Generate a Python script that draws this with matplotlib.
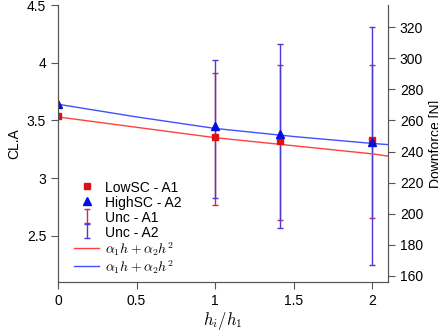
import numpy as np
import matplotlib as mpl
mpl.use('Agg')
import matplotlib.pyplot as plt

mpl.rcParams['font.family'] = ['Liberation Sans', 'DejaVu Sans']
mpl.rcParams['mathtext.fontset'] = 'cm'

# data (CL.A)
h_ratio = [0, 1, 1.41, 2]
cla_low = [3.54, 3.36, 3.32, 3.33]
cla_high = [3.64, 3.45, 3.38, 3.31]

# uncertainty bars, only at h > 0
h_unc = [1, 1.41, 2]
low_unc_lo = [2.77, 2.64, 2.65]
low_unc_hi = [3.91, 3.98, 3.98]
high_unc_lo = [2.83, 2.57, 2.25]
high_unc_hi = [4.02, 4.16, 4.31]

# fitted curves read at a few h values
h_fit = [0, 0.5, 1, 1.5, 2, 2.1]
fit_low = [3.53, 3.44, 3.35, 3.28, 3.21, 3.19]
fit_high = [3.64, 3.53, 3.43, 3.36, 3.30, 3.29]

q_scale = 74.3  # downforce / CL.A

fig = plt.figure(figsize=(4.39, 3.34), dpi=100)
ax = fig.add_axes([0.132, 0.156, 0.752, 0.829])

m1, = ax.plot(h_ratio, cla_low, 's', color='#e01010', ms=5, zorder=5, label='LowSC - A1')
m2, = ax.plot(h_ratio, cla_high, '^', color='#0010e0', ms=6, zorder=5, label='HighSC - A2')

c_low = np.array(cla_low[1:])
c_high = np.array(cla_high[1:])
e1 = ax.errorbar(h_unc, c_low, yerr=[c_low - np.array(low_unc_lo), np.array(low_unc_hi) - c_low],
                 fmt='none', ecolor='#c03050', elinewidth=1, capsize=2.5, capthick=1, label='Unc - A1')
e2 = ax.errorbar(h_unc, c_high, yerr=[c_high - np.array(high_unc_lo), np.array(high_unc_hi) - c_high],
                 fmt='none', ecolor='#4a3ad8', elinewidth=1, capsize=2.5, capthick=1, label='Unc - A2')

l1, = ax.plot(h_fit, fit_low, '-', color='#ff4040', lw=1, label=r'$\alpha_1 h + \alpha_2 h^2$')
l2, = ax.plot(h_fit, fit_high, '-', color='#4050ff', lw=1, label=r'$\alpha_1 h + \alpha_2 h^2$')

ax.set_xlim(0, 2.1)
ax.set_ylim(2.1, 4.5)
ax.set_xticks([0, 0.5, 1, 1.5, 2])
ax.set_xticklabels(['0', '0.5', '1', '1.5', '2'])
ax.set_yticks([2.5, 3, 3.5, 4, 4.5])
ax.set_yticklabels(['2.5', '3', '3.5', '4', '4.5'])
ax.set_ylabel('CL.A', fontsize=10)
ax.set_xlabel(r'$h_i/h_1$', fontsize=12, labelpad=2)

ax2 = ax.twinx()
ax2.set_ylim(2.1 * q_scale, 4.5 * q_scale)
ax2.set_yticks(np.arange(160, 330, 20))
ax2.set_ylabel('Downforce [N]', fontsize=10)

for a in (ax, ax2):
    a.spines['top'].set_visible(False)
    for s in a.spines.values():
        s.set_color('#555555')
    a.tick_params(direction='out', length=5, color='#555555', labelsize=10)

ax.legend([m1, m2, e1, e2, l1, l2],
          ['LowSC - A1', 'HighSC - A2', 'Unc - A1', 'Unc - A2',
           r'$\alpha_1 h + \alpha_2 h^2$', r'$\alpha_1 h + \alpha_2 h^2$'],
          loc='lower left', bbox_to_anchor=(0.02, -0.015), frameon=False, fontsize=10,
          handlelength=1.8, handleheight=1.3, handletextpad=0.4, labelspacing=0.0,
          borderaxespad=0.3)

fig.savefig('out.png', dpi=100)
